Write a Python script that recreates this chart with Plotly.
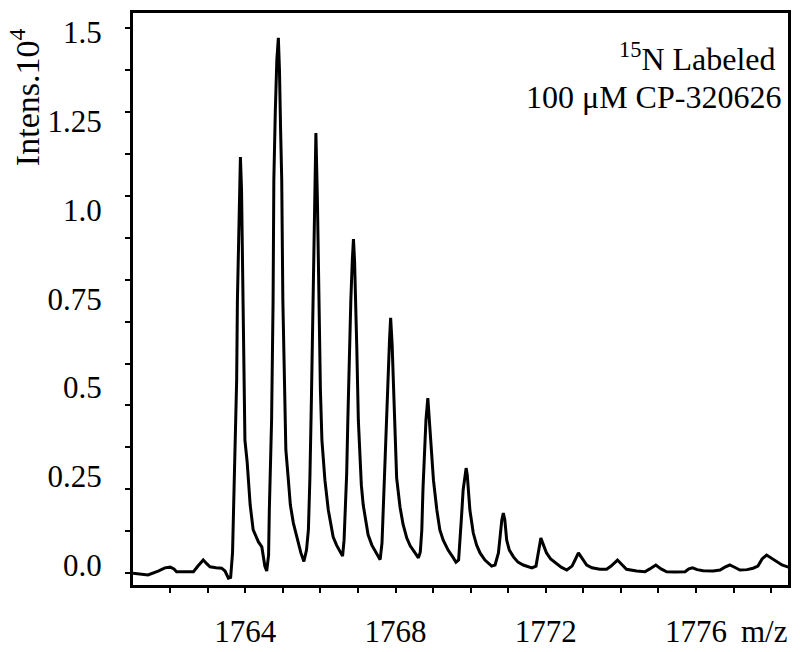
import plotly.graph_objects as go

# spectrum trace (m/z, intensity x 10^4)
mz = [
    1761.01, 1761.20, 1761.41, 1761.68, 1761.86, 1762.00, 1762.10, 1762.17, 1762.39, 1762.62,
    1762.74, 1762.88, 1762.98, 1763.06, 1763.22, 1763.37, 1763.46, 1763.55, 1763.61,
    1763.66, 1763.70, 1763.73, 1763.77, 1763.79, 1763.82, 1763.85, 1763.87, 1763.90, 1763.93,
    1763.95, 1763.99, 1764.05, 1764.09, 1764.13, 1764.21, 1764.35, 1764.44, 1764.48, 1764.52, 1764.57,
    1764.62, 1764.64, 1764.67, 1764.70, 1764.74, 1764.76, 1764.80, 1764.84, 1764.88, 1764.91,
    1764.94, 1764.97, 1765.00, 1765.04, 1765.08, 1765.14, 1765.20, 1765.28, 1765.41, 1765.48, 1765.56,
    1765.63, 1765.68, 1765.72, 1765.76, 1765.80, 1765.84, 1765.88, 1765.92, 1765.96,
    1766.00, 1766.04, 1766.12, 1766.21, 1766.30, 1766.34, 1766.43, 1766.52, 1766.59,
    1766.63, 1766.67, 1766.70, 1766.73, 1766.77, 1766.81, 1766.85, 1766.88, 1766.91, 1766.94,
    1766.97, 1767.01, 1767.05, 1767.09, 1767.14, 1767.20, 1767.27, 1767.37, 1767.50, 1767.59,
    1767.64, 1767.67, 1767.72, 1767.76, 1767.80, 1767.84, 1767.87, 1767.91, 1767.95,
    1767.99, 1768.03, 1768.12, 1768.20, 1768.30, 1768.39, 1768.47, 1768.61,
    1768.66, 1768.70, 1768.73, 1768.77, 1768.81, 1768.86, 1768.90, 1768.94,
    1769.01, 1769.10, 1769.18, 1769.27, 1769.40, 1769.54, 1769.61,
    1769.68, 1769.72, 1769.76, 1769.80, 1769.85, 1769.88, 1769.91, 1769.94,
    1769.98, 1770.07, 1770.16, 1770.25, 1770.38, 1770.56,
    1770.65, 1770.74, 1770.79, 1770.83, 1770.87, 1770.91, 1770.96, 1771.03, 1771.14, 1771.26, 1771.40, 1771.63,
    1771.74, 1771.81, 1771.87, 1771.94, 1772.02, 1772.13, 1772.25, 1772.41, 1772.56, 1772.64,
    1772.70, 1772.78, 1772.87, 1772.96, 1773.09, 1773.23, 1773.44, 1773.62, 1773.74,
    1773.91, 1774.02, 1774.15, 1774.42, 1774.64, 1774.77,
    1774.93, 1775.07, 1775.22, 1775.44, 1775.71, 1775.81,
    1775.91, 1776.03, 1776.19, 1776.46, 1776.64, 1776.77,
    1776.90, 1777.04, 1777.17, 1777.36, 1777.52, 1777.65,
    1777.76, 1777.88, 1778.00, 1778.15, 1778.29, 1778.46,
]
intens = [
    -0.023, -0.025, -0.028, -0.017, -0.008, -0.006, -0.011, -0.019, -0.020, -0.019,
    -0.003, 0.014, 0.003, -0.005, -0.008, -0.009, -0.017, -0.037, -0.035,
    0.034, 0.211, 0.324, 0.521, 0.746, 0.915, 1.056, 1.149, 1.056, 0.859,
    0.606, 0.352, 0.290, 0.239, 0.169, 0.099, 0.065, 0.051, 0.020, -0.003, -0.017,
    0.028, 0.155, 0.268, 0.408, 0.746, 1.085, 1.282, 1.423, 1.485, 1.394,
    1.225, 1.085, 0.746, 0.465, 0.324, 0.248, 0.169, 0.118, 0.062, 0.034, 0.010,
    0.042, 0.099, 0.245, 0.465, 0.746, 1.028, 1.217, 1.028, 0.746,
    0.493, 0.352, 0.239, 0.155, 0.099, 0.079, 0.056, 0.037, 0.025,
    0.070, 0.169, 0.259, 0.408, 0.606, 0.746, 0.859, 0.918, 0.854, 0.746,
    0.606, 0.408, 0.310, 0.225, 0.169, 0.127, 0.085, 0.056, 0.034, 0.015,
    0.062, 0.155, 0.268, 0.408, 0.521, 0.634, 0.696, 0.620, 0.493,
    0.352, 0.245, 0.163, 0.115, 0.076, 0.054, 0.042, 0.020,
    0.037, 0.099, 0.211, 0.310, 0.408, 0.470, 0.408, 0.324,
    0.239, 0.155, 0.099, 0.070, 0.042, 0.020, 0.008,
    0.014, 0.070, 0.141, 0.211, 0.262, 0.273, 0.254, 0.211,
    0.155, 0.090, 0.056, 0.034, 0.014, -0.003,
    0.000, 0.034, 0.085, 0.127, 0.146, 0.127, 0.070, 0.042, 0.023, 0.008, 0.000, -0.008,
    -0.003, 0.037, 0.076, 0.056, 0.034, 0.017, 0.006, -0.006, -0.014, -0.008,
    -0.003, 0.014, 0.034, 0.020, 0.000, -0.008, -0.012, -0.012, -0.003,
    0.014, 0.003, -0.012, -0.017, -0.019, -0.011,
    0.000, -0.011, -0.019, -0.020, -0.019, -0.011,
    -0.008, -0.013, -0.016, -0.017, -0.014, -0.006,
    0.000, -0.007, -0.014, -0.013, -0.009, -0.003,
    0.017, 0.028, 0.020, 0.009, 0.000, -0.006,
]

x_tick_vals = [1764, 1768, 1772, 1776]
x_tick_text = ["1764", "1768", "1772", "1776"]
y_tick_vals = [0, 0.25, 0.5, 0.75, 1.0, 1.25, 1.5]
y_tick_text = ["0.0", "0.25", "0.5", "0.75", "1.0", "1.25", "1.5"]

FONT = "Liberation Serif, Times New Roman, serif"

fig = go.Figure()
fig.add_trace(go.Scatter(x=mz, y=intens, mode="lines",
                         line=dict(color="black", width=3), hoverinfo="skip"))

fig.update_layout(
    width=800, height=652,
    margin=dict(l=133, r=12, t=13, b=67, autoexpand=False),
    paper_bgcolor="white", plot_bgcolor="white",
    showlegend=False,
    font=dict(family=FONT, size=31, color="black"),
    xaxis=dict(
        range=[1761.01, 1778.45], showgrid=False, zeroline=False, automargin=False,
        showline=True, linecolor="black", linewidth=3, mirror=True,
        tickmode="array", tickvals=x_tick_vals, ticktext=x_tick_text,
        ticks="outside", ticklen=5, tickwidth=2, tickcolor="black",
        ticklabelstandoff=12,
        minor=dict(tickmode="linear", tick0=1764, dtick=1, ticks="outside",
                   ticklen=5, tickwidth=2, tickcolor="black"),
    ),
    yaxis=dict(
        range=[-0.0563, 1.5549], showgrid=False, zeroline=False, automargin=False,
        showline=True, linecolor="black", linewidth=3, mirror=True,
        tickmode="array", tickvals=y_tick_vals, ticktext=y_tick_text,
        ticks="", ticklabelstandoff=22,
        minor=dict(tickmode="linear", tick0=-0.0225, dtick=0.118, ticks="outside",
                   ticklen=5, tickwidth=2, tickcolor="black"),
    ),
    annotations=[
        dict(text="Intens.10<sup>4</sup>", textangle=-90, xref="paper", yref="paper",
             x=-0.1648, y=0.853, xanchor="center", yanchor="middle", showarrow=False,
             font=dict(size=34)),
        dict(text="<sup>15</sup>N Labeled", xref="paper", yref="paper",
             x=0.985, y=0.923, xanchor="right", yanchor="middle", showarrow=False,
             font=dict(size=32)),
        dict(text="100 \u03bcM CP-320626", xref="paper", yref="paper",
             x=0.992, y=0.854, xanchor="right", yanchor="middle", showarrow=False,
             font=dict(size=32)),
        dict(text="m/z", xref="paper", yref="paper",
             x=0.9645, y=-0.082, xanchor="center", yanchor="middle", showarrow=False,
             font=dict(size=31)),
    ],
)

# drop the default body margin so the figure fills the window exactly
fig.write_html("out.html", config={"displayModeBar": False},
               post_script="document.body.style.margin='0px';")
